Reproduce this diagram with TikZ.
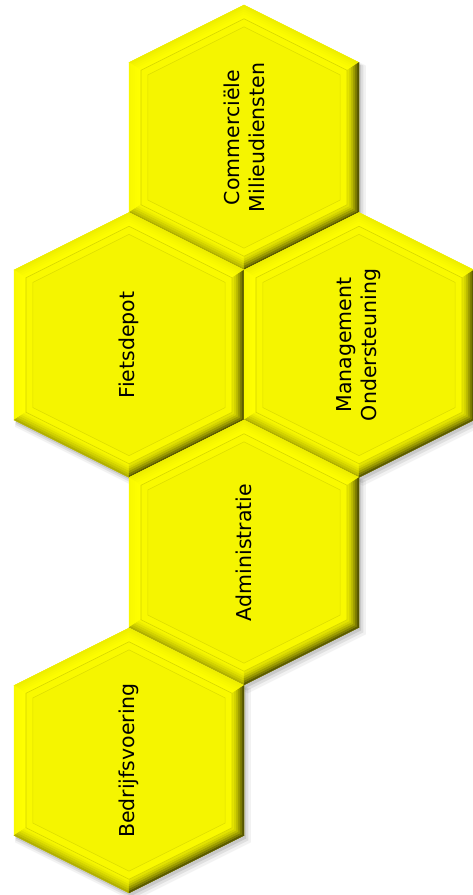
\documentclass[tikz,border=0pt]{standalone}
\usepackage{fontspec}
\setmainfont{DejaVu Sans}
\definecolor{ybright}{RGB}{255,255,0}
\definecolor{face}{RGB}{245,245,0}
\definecolor{band}{RGB}{249,249,0}
\definecolor{groove}{RGB}{212,212,0}
\definecolor{ytopO}{RGB}{238,238,0}
\definecolor{ytopI}{RGB}{255,255,0}
\definecolor{yleftO}{RGB}{248,248,0}
\definecolor{yleftI}{RGB}{255,255,0}
\definecolor{yblO}{RGB}{175,175,0}
\definecolor{yblI}{RGB}{250,250,0}
\definecolor{ybrO}{RGB}{90,90,0}
\definecolor{ybrI}{RGB}{235,235,0}
\definecolor{yrO}{RGB}{85,85,0}
\definecolor{yrI}{RGB}{235,235,0}
\def\hexW{115}
\def\hexH{75}
\def\hexT{132.5}
\def\hexD{0.0174}
% hexagon path: scale, x offset, y offset
\newcommand\hexat[3]{({#2+#1*\hexW},{#3+#1*\hexH}) -- ({#2},{#3+#1*\hexT}) -- ({#2-#1*\hexW},{#3+#1*\hexH}) -- ({#2-#1*\hexW},{#3-#1*\hexH}) -- ({#2},{#3-#1*\hexT}) -- ({#2+#1*\hexW},{#3-#1*\hexH}) -- cycle}
\newcommand\bevelstrips{%
  \foreach \xa/\ya/\xb/\yb/\oc/\ic in {
    \hexW/\hexH/0/\hexT/ytopO/ytopI,
    0/\hexT/-\hexW/\hexH/ytopO/ytopI,
    -\hexW/\hexH/-\hexW/-\hexH/yleftO/yleftI,
    -\hexW/-\hexH/0/-\hexT/yblO/yblI,
    0/-\hexT/\hexW/-\hexH/ybrO/ybrI,
    \hexW/-\hexH/\hexW/\hexH/yrO/yrI}{
    \foreach \k/\pc in {0/100,1/76,2/54,3/34,4/17,5/5}{
      \pgfmathsetmacro\sa{1-\k*\hexD}
      \pgfmathsetmacro\sb{1-(\k+1)*\hexD}
      \fill[\oc!\pc!\ic, draw=\oc!\pc!\ic, line width=0.3pt]
        ({\sa*(\xa)},{\sa*(\ya)}) -- ({\sa*(\xb)},{\sa*(\yb)}) --
        ({\sb*(\xb)},{\sb*(\yb)}) -- ({\sb*(\xa)},{\sb*(\ya)}) -- cycle;
    }}}
\newcommand\hexcell[4]{%
  \begin{scope}[shift={(#1,#2)}]
    \fill[black,opacity=0.05] \hexat{1.025}{4}{-5};
    \fill[black,opacity=0.08] \hexat{1.012}{3}{-4};
    \fill[black,opacity=0.10] \hexat{1.0}{2}{-3};
    \fill[ybright] \hexat{1}{0}{0};
    \bevelstrips
    \fill[band] \hexat{0.896}{0}{0};
    \draw[groove, line width=0.6pt] \hexat{0.896}{0}{0};
    \fill[face] \hexat{0.835}{0}{0};
    \draw[groove!70!face, line width=0.5pt] \hexat{0.835}{0}{0};
  \end{scope}
  \node[lbl] (#3) at (#1,#2) {#4};
}
\tikzset{lbl/.style={rotate=90, align=center, text=black,
  font=\fontsize{20.5}{25}\selectfont, inner sep=0pt}}
\begin{document}
\begin{tikzpicture}[x=1pt,y=1pt]
\useasboundingbox (0,0) rectangle (473,895);
\hexcell{244}{757.5}{comm}{Commerciële\\Milieudiensten}
\hexcell{129}{550}{fiets}{Fietsdepot}
\hexcell{359}{550}{mgmt}{Management\\Ondersteuning}
\hexcell{244}{342.5}{admin}{Administratie}
\hexcell{129}{134.5}{bedr}{Bedrijfsvoering}
\end{tikzpicture}
\end{document}
